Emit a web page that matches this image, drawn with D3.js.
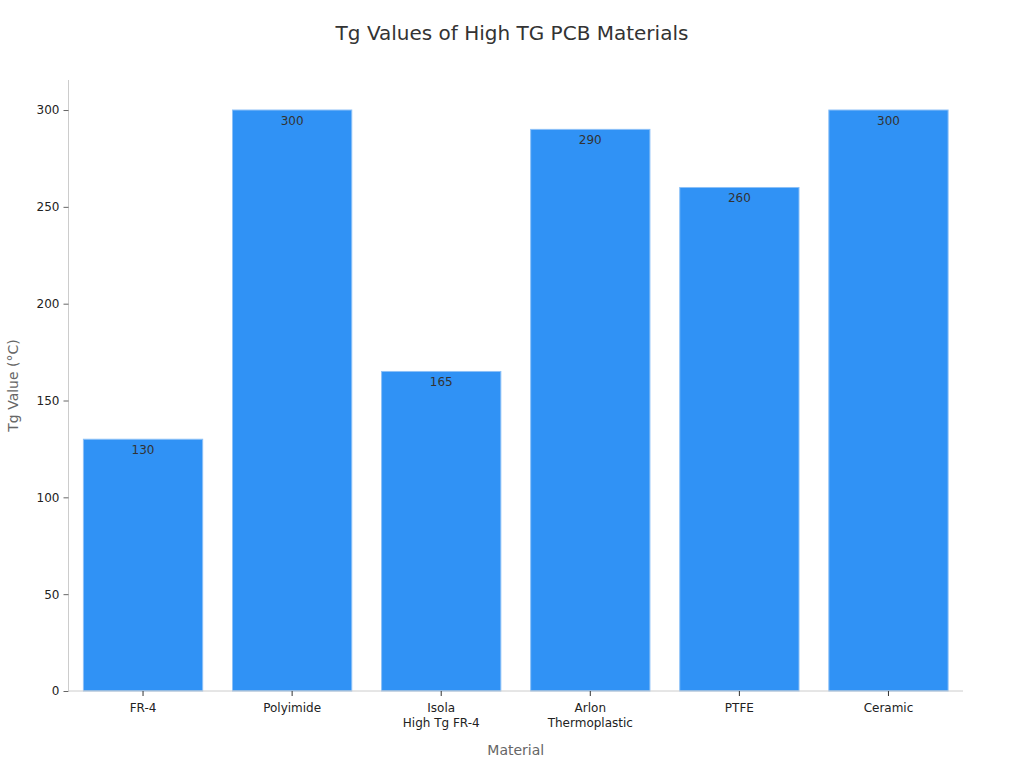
<!DOCTYPE html>
<html>
<head>
<meta charset="utf-8">
<script src="https://cdn.jsdelivr.net/npm/d3@7"></script>
<style>
  body { margin: 0; background: #fff; }
  text { font-family: "DejaVu Sans", sans-serif; }
</style>
</head>
<body>
<svg width="1024" height="768"></svg>
<script>
const materials = [["FR-4"], ["Polyimide"], ["Isola", "High Tg FR-4"], ["Arlon", "Thermoplastic"], ["PTFE"], ["Ceramic"]];
const tgValues = [130, 300, 165, 290, 260, 300];
const yTicks = [0, 50, 100, 150, 200, 250, 300];

const svg = d3.select('svg');
const margin = {left: 68.5, right: 61, top: 80, bottom: 77};
const width = 1024, height = 768;

const keys = materials.map(m => m.join(' '));
const x = d3.scaleBand()
    .domain(keys)
    .range([margin.left, width - margin.right])
    .paddingInner(0.2)
    .paddingOuter(0.1);
const y = d3.scaleLinear()
    .domain([0, 315.5])
    .range([height - margin.bottom, margin.top]);

// title
svg.append('text')
    .attr('x', 512).attr('y', 40)
    .attr('text-anchor', 'middle')
    .attr('font-size', 20)
    .attr('fill', '#333')
    .text('Tg Values of High TG PCB Materials');

// bars
svg.append('g').selectAll('rect')
    .data(tgValues)
    .enter()
    .append('rect')
    .attr('x', (d, i) => x(keys[i]))
    .attr('y', d => y(d))
    .attr('width', x.bandwidth())
    .attr('height', d => y(0) - y(d))
    .attr('fill', '#3092f5')
    .attr('stroke', '#8cc0f7')
    .attr('stroke-width', 1);

// value labels
svg.append('g').selectAll('text')
    .data(tgValues)
    .enter()
    .append('text')
    .attr('x', (d, i) => x(keys[i]) + x.bandwidth() / 2)
    .attr('y', d => y(d) + 15)
    .attr('text-anchor', 'middle')
    .attr('font-size', 12)
    .attr('fill', '#333')
    .text(d => d);

// y axis
const yAxis = svg.append('g')
    .attr('transform', `translate(${margin.left},0)`)
    .call(d3.axisLeft(y).tickValues(yTicks).tickSize(5).tickPadding(4));
yAxis.select('.domain').attr('stroke', '#ccc').attr('d', `M0,${margin.top}V${y(0)}`);
yAxis.selectAll('.tick line').attr('stroke', '#666');
yAxis.selectAll('.tick text').attr('font-size', 12).attr('fill', '#222')
    .attr('font-family', '"DejaVu Sans", sans-serif');

// x axis
const xAxis = svg.append('g')
    .attr('transform', `translate(0,${y(0)})`)
    .call(d3.axisBottom(x).tickSize(5).tickPadding(4));
xAxis.select('.domain').attr('stroke', '#ccc')
    .attr('d', `M${margin.left},0H${width - margin.right}`);
xAxis.selectAll('.tick line').attr('stroke', '#333');
xAxis.selectAll('.tick text').remove();
xAxis.selectAll('.tick').each(function(d, i) {
    const t = d3.select(this).append('text')
        .attr('fill', '#222')
        .attr('font-size', 12)
        .attr('font-family', '"DejaVu Sans", sans-serif')
        .attr('text-anchor', 'middle')
        .attr('y', 21);
    materials[i].forEach((line, j) => {
        t.append('tspan').attr('x', 0).attr('dy', j === 0 ? 0 : 15).text(line);
    });
});

// axis titles
svg.append('text')
    .attr('x', (margin.left + width - margin.right) / 2)
    .attr('y', 755)
    .attr('text-anchor', 'middle')
    .attr('font-size', 14)
    .attr('fill', '#666')
    .text('Material');
svg.append('text')
    .attr('transform', `translate(18,${(margin.top + y(0)) / 2}) rotate(-90)`)
    .attr('text-anchor', 'middle')
    .attr('font-size', 14)
    .attr('fill', '#666')
    .text('Tg Value (°C)');
</script>
</body>
</html>
